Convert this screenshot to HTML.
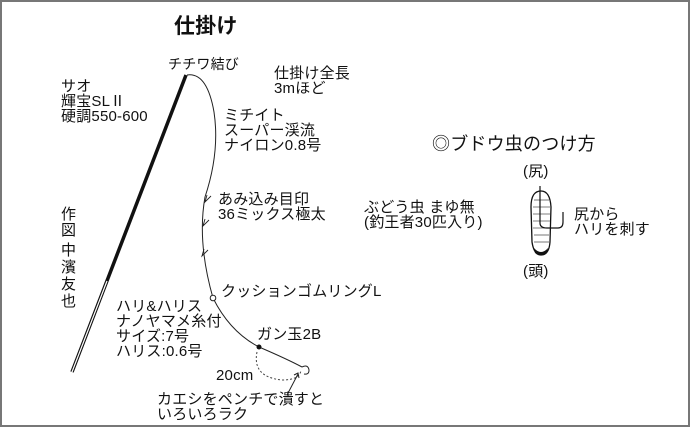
<!DOCTYPE html>
<html><head><meta charset="utf-8"><style>
html,body{margin:0;padding:0;background:#fff;}
.c{position:relative;width:690px;height:427px;overflow:hidden;box-sizing:border-box;border:2px solid #777;}
svg{position:absolute;left:0;top:0;}
.t{position:absolute;font-family:"Liberation Sans","Noto Sans CJK JP",sans-serif;font-size:15px;line-height:15px;color:#111;white-space:nowrap;letter-spacing:0.2px;}
</style></head><body><div class="c">
<svg width="690" height="427" viewBox="0 0 690 427">
<line x1="184" y1="73" x2="70" y2="370" stroke="#111" stroke-width="3.5"/>
<line x1="105" y1="279" x2="70" y2="370" stroke="#fff" stroke-width="1.2"/>
<path d="M185 73 Q205 70 212 110 Q218 150 203 195 Q195 240 211 296 Q228 330 257 345 Q285 357 300 365" fill="none" stroke="#222" stroke-width="1"/>
<g stroke="#222" stroke-width="0.9" fill="none">
<path d="M209 194 l-6 6 l2 -7"/><path d="M207 218 l-6 6 l2 -7"/><path d="M206 248 l-6 6 l2 -7"/>
</g>
<circle cx="211" cy="296" r="2.8" fill="#fff" stroke="#222"/>
<circle cx="257" cy="345" r="2.5" fill="#111"/>
<path d="M300 365 q6 -3 7 3 q0 5 -5 4" fill="none" stroke="#222" stroke-width="1"/>
<path d="M255 350 Q250 375 280 378 Q298 378 299 368" fill="none" stroke="#444" stroke-dasharray="2,2"/>
<path d="M296 372 L285 393" stroke="#222" fill="none"/><path d="M292 373 l4 -2 l1 5" fill="none" stroke="#222"/>
<!-- worm -->
<path d="M539 189 Q529 189 529 205 L530 240 Q532 253 539 253 Q547 253 548 240 L549 205 Q548 189 539 189 Z" fill="#fff" stroke="#111" stroke-width="1.3"/>
<g stroke="#555" stroke-width="0.8"><line x1="532" y1="198" x2="547" y2="198"/><line x1="531" y1="205" x2="548" y2="205"/><line x1="531" y1="212" x2="548" y2="212"/><line x1="531" y1="219" x2="548" y2="219"/><line x1="531" y1="226" x2="548" y2="226"/><line x1="532" y1="233" x2="547" y2="233"/><line x1="532" y1="240" x2="547" y2="240"/></g>
<path d="M532 246 Q539 254 546 246 L545 251 Q539 255 533 251Z" fill="#111"/>
<path d="M538 184 L538 221 Q538 226 545 226 L556 226 Q561 226 561 220 L561 210" fill="none" stroke="#111" stroke-width="1.2"/>
</svg>
<div class="t" style="left:172px;top:12px;font-size:21px;line-height:26px;font-weight:bold;">仕掛け</div>
<div class="t" style="left:166px;top:55px;font-size:14px;">チチワ結び</div>
<div class="t" style="left:272px;top:64px;">仕掛け全長<br>3mほど</div>
<div class="t" style="left:59px;top:77px;">サオ<br>輝宝SLⅡ<br>硬調550-600</div>
<div class="t" style="left:222px;top:106px;">ミチイト<br>スーパー渓流<br>ナイロン0.8号</div>
<div class="t" style="left:216px;top:190px;">あみ込み目印<br>36ミックス極太</div>
<div class="t" style="left:59px;top:205px;width:15px;white-space:normal;line-height:16px;">作図</div>
<div class="t" style="left:59px;top:240px;width:15px;white-space:normal;line-height:17px;">中濱友也</div>
<div class="t" style="left:219px;top:282px;">クッションゴムリングL</div>
<div class="t" style="left:114px;top:297px;">ハリ&amp;ハリス<br>ナノヤマメ糸付<br>サイズ:7号<br>ハリス:0.6号</div>
<div class="t" style="left:255px;top:325px;">ガン玉2B</div>
<div class="t" style="left:214px;top:366px;">20cm</div>
<div class="t" style="left:155px;top:390px;">カエシをペンチで潰すと<br>いろいろラク</div>
<div class="t" style="left:430px;top:132px;font-size:18px;line-height:20px;">◎ブドウ虫のつけ方</div>
<div class="t" style="left:521px;top:162px;">(尻)</div>
<div class="t" style="left:521px;top:262px;">(頭)</div>
<div class="t" style="left:362px;top:198px;">ぶどう虫 まゆ無<br>(釣王者30匹入り)</div>
<div class="t" style="left:572px;top:205px;">尻から<br>ハリを刺す</div>
</div></body></html>
